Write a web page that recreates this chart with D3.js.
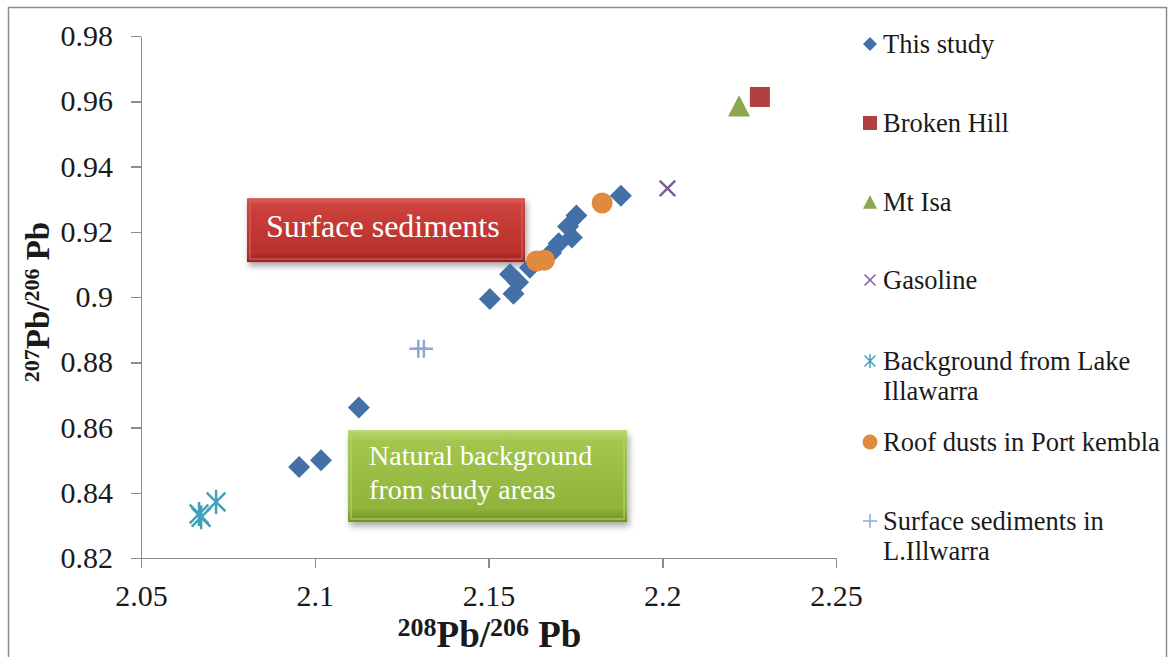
<!DOCTYPE html>
<meta charset="utf-8">
<head>
<style>
body { margin: 0; background: #fff; }
svg text { font-family: "Liberation Serif", "Times New Roman", serif !important; }
.axis path, .axis line { stroke: #8c8c8c; stroke-width: 1.5px; fill: none; shape-rendering: crispEdges; }
.axis text { font-size: 30px; fill: #1a1a1a; }
.legend text { font-size: 26.5px; fill: #1a1a1a; }
</style>
<script src="https://d3js.org/d3.v7.min.js"></script>
</head>
<body>
<div id="chart"></div>
<script>

// ---- data ----
var studyX = [2.0955, 2.1018, 2.1127, 2.1504, 2.1562, 2.1572, 2.1585, 2.1619, 2.1680, 2.1702, 2.1740, 2.1729, 2.1753, 2.1881];
var studyY = [0.8479, 0.8500, 0.8661, 0.8994, 0.9070, 0.9010, 0.9045, 0.9090, 0.9135, 0.9165, 0.9182, 0.9216, 0.9250, 0.9310];
var brokenHillX = [2.2281];
var brokenHillY = [0.9613];
var mtIsaX = [2.2221];
var mtIsaY = [0.9585];
var gasolineX = [2.2015];
var gasolineY = [0.9333];
var lakeBgX = [2.0667, 2.0673, 2.0716];
var lakeBgY = [0.8335, 0.8325, 0.8372];
var roofDustX = [2.1638, 2.1661, 2.1827];
var roofDustY = [0.9110, 0.9113, 0.9288];
var lakeSedX = [2.1298, 2.1314];
var lakeSedY = [0.8841, 0.8841];

var seriesNames = ["This study", "Broken Hill", "Mt Isa", "Gasoline", "Background from Lake|Illawarra", "Roof dusts in Port kembla", "Surface sediments in|L.Illwarra"];
var seriesShapes = ["diamond", "square", "triangle", "cross", "star", "circle", "plus"];
var seriesColors = ["#4470a8", "#b0413e", "#8aa84c", "#7b5f9a", "#40a2ba", "#e18a3d", "#8da8d5"];
var seriesX = [studyX, brokenHillX, mtIsaX, gasolineX, lakeBgX, roofDustX, lakeSedX];
var seriesY = [studyY, brokenHillY, mtIsaY, gasolineY, lakeBgY, roofDustY, lakeSedY];

var xTicks = [2.05, 2.1, 2.15, 2.2, 2.25];
var yTicks = [0.82, 0.84, 0.86, 0.88, 0.9, 0.92, 0.94, 0.96, 0.98];

// text boxes, in data units [x0, x1, yTop, yBottom]
var boxLabels = [["Surface sediments"], ["Natural background", "from study areas"]];
var boxExtents = [[2.0805, 2.1605, 0.9303, 0.9107], [2.1096, 2.1899, 0.8592, 0.8310]];
var boxKinds = ["red", "green"];

var margin = {top: 36, right: 333, bottom: 99, left: 141},
  W = 1169, H = 657,
  width = W - margin.left - margin.right,
  height = H - margin.top - margin.bottom;

var root = d3.select("#chart").append("svg")
  .attr("width", W)
  .attr("height", H);

var defs = root.append("defs");
function grad(id, stops) {
  var g = defs.append("linearGradient").attr("id", id)
    .attr("x1", 0).attr("y1", 0).attr("x2", 0).attr("y2", 1);
  stops.forEach(function(s) { g.append("stop").attr("offset", s[0]).attr("stop-color", s[1]); });
}
grad("redGrad", [[0, "#d65a55"], [0.12, "#cc413c"], [0.85, "#b8302c"], [1, "#8e2420"]]);
grad("greenGrad", [[0, "#b9d872"], [0.12, "#a3c64f"], [0.85, "#90b43a"], [1, "#6f8d28"]]);
var f = defs.append("filter").attr("id", "shadow").attr("x", "-10%").attr("y", "-10%").attr("width", "125%").attr("height", "135%");
f.append("feDropShadow").attr("dx", 2).attr("dy", 4).attr("stdDeviation", 3).attr("flood-color", "#000").attr("flood-opacity", 0.35);

// chart frame
root.append("rect")
  .attr("x", 8.5).attr("y", 7.5)
  .attr("width", 1158).attr("height", 670)
  .attr("fill", "none")
  .attr("stroke", "#8c8c8c")
  .attr("stroke-width", 1.5);

var svg = root.append("g")
  .attr("transform", "translate(" + margin.left + "," + margin.top + ")");

var x = d3.scaleLinear().domain([2.05, 2.25]).range([0, width]);
var y = d3.scaleLinear().domain([0.82, 0.98]).range([height, 0]);

var fmt = function(d) { return String(+d.toFixed(2)); };

svg.append("g")
  .attr("class", "axis")
  .attr("transform", "translate(0," + height + ")")
  .call(d3.axisBottom(x).tickValues(xTicks).tickFormat(fmt).tickSize(10).tickPadding(17).tickSizeOuter(10))
  .attr("font-family", null).attr("font-size", null);

svg.append("g")
  .attr("class", "axis")
  .call(d3.axisLeft(y).tickValues(yTicks).tickFormat(fmt).tickSize(10).tickPadding(18).tickSizeOuter(0))
  .attr("font-family", null).attr("font-size", null);

// axis titles
function pbTitle(sel, big, small, a, b) {
  var rise = Math.round(big * 0.3);
  sel.append("tspan").attr("font-size", small + "px").attr("dy", -rise).text(a);
  sel.append("tspan").attr("dy", rise).text("Pb/");
  sel.append("tspan").attr("font-size", small + "px").attr("dy", -rise).text(b);
  sel.append("tspan").attr("dy", rise).text(" Pb");
}
var xt = root.append("text")
  .attr("x", margin.left + width / 2 + 1)
  .attr("y", 647)
  .attr("text-anchor", "middle")
  .style("font-weight", "bold")
  .style("font-size", "37px")
  .attr("fill", "#1a1a1a");
pbTitle(xt, 37, 26, "208", "206");

var yt = root.append("text")
  .attr("transform", "translate(49," + 302 + ") rotate(-90)")
  .attr("text-anchor", "middle")
  .style("font-weight", "bold")
  .style("font-size", "33px")
  .attr("fill", "#1a1a1a");
pbTitle(yt, 33, 22, "207", "206");

// annotation boxes
boxExtents.forEach(function(b, i) {
  var g = svg.append("g");
  var bx = x(b[0]), by = y(b[2]), bw = x(b[1]) - x(b[0]), bh = y(b[3]) - y(b[2]);
  g.append("rect")
    .attr("x", bx).attr("y", by).attr("width", bw).attr("height", bh)
    .attr("fill", "url(#" + boxKinds[i] + "Grad)")
    .attr("filter", "url(#shadow)");
  g.append("rect")
    .attr("x", bx + 3).attr("y", by + 3).attr("width", bw - 6).attr("height", bh - 6)
    .attr("fill", "none")
    .attr("stroke", boxKinds[i] == "red" ? "#d9605b" : "#b4d467")
    .attr("stroke-opacity", 0.6)
    .attr("stroke-width", 2);
  var big = boxKinds[i] == "red";
  boxLabels[i].forEach(function(line, j) {
    g.append("text")
      .attr("x", bx + (big ? 19 : 21))
      .attr("y", by + (big ? 39 : 35) + j * 34)
      .attr("fill", "#fff")
      .style("font-size", big ? "32px" : "28px")
      .text(line);
  });
});

// marker shapes
function shapePath(kind, r) {
  if (kind == "diamond") return "M0," + (-r) + "L" + r + ",0L0," + r + "L" + (-r) + ",0Z";
  if (kind == "square") return "M" + (-r) + "," + (-r) + "h" + 2 * r + "v" + 2 * r + "h" + (-2 * r) + "Z";
  if (kind == "triangle") return "M0," + (-r) + "L" + r + "," + r * 0.95 + "L" + (-r) + "," + r * 0.95 + "Z";
  if (kind == "circle") return d3.symbol(d3.symbolCircle, Math.PI * r * r)();
  var k = r * 0.78;
  if (kind == "cross") return "M" + (-k) + "," + (-k) + "L" + k + "," + k + "M" + (-k) + "," + k + "L" + k + "," + (-k);
  if (kind == "star") return "M0," + (-r) + "V" + r + "M" + (-k) + "," + (-k) + "L" + k + "," + k + "M" + (-k) + "," + k + "L" + k + "," + (-k);
  if (kind == "plus") return "M" + (-r) + ",0H" + r + "M0," + (-r) + "V" + r;
}
var filled = {diamond: true, square: true, triangle: true, circle: true};
var markerR = {diamond: 11, square: 10, triangle: 11, circle: 10.5, cross: 10, star: 12, plus: 9};

seriesNames.forEach(function(name, i) {
  var pts = seriesX[i].map(function(v, j) { return {x: v, y: seriesY[i][j]}; });
  var kind = seriesShapes[i];
  svg.append("g").selectAll("path")
    .data(pts)
    .enter().append("path")
      .attr("transform", function(d) { return "translate(" + x(d.x) + "," + y(d.y) + ")"; })
      .attr("d", shapePath(kind, markerR[kind]))
      .attr("fill", filled[kind] ? seriesColors[i] : "none")
      .attr("stroke", filled[kind] ? "none" : seriesColors[i])
      .attr("stroke-width", 2.5);
});

// legend
var legendY = [44, 123, 202, 280, 361, 442, 521];
var legend = root.append("g").attr("class", "legend");
seriesNames.forEach(function(name, i) {
  var kind = seriesShapes[i];
  var g = legend.append("g").attr("transform", "translate(870," + legendY[i] + ")");
  g.append("path")
    .attr("d", shapePath(kind, kind == "circle" ? 7.5 : 7))
    .attr("fill", filled[kind] ? seriesColors[i] : "none")
    .attr("stroke", filled[kind] ? "none" : seriesColors[i])
    .attr("stroke-width", 1.5);
  name.split("|").forEach(function(line, j) {
    g.append("text")
      .attr("x", 13)
      .attr("y", 9 + j * 30)
      .text(line);
  });
});

</script>
</body>
</html>
